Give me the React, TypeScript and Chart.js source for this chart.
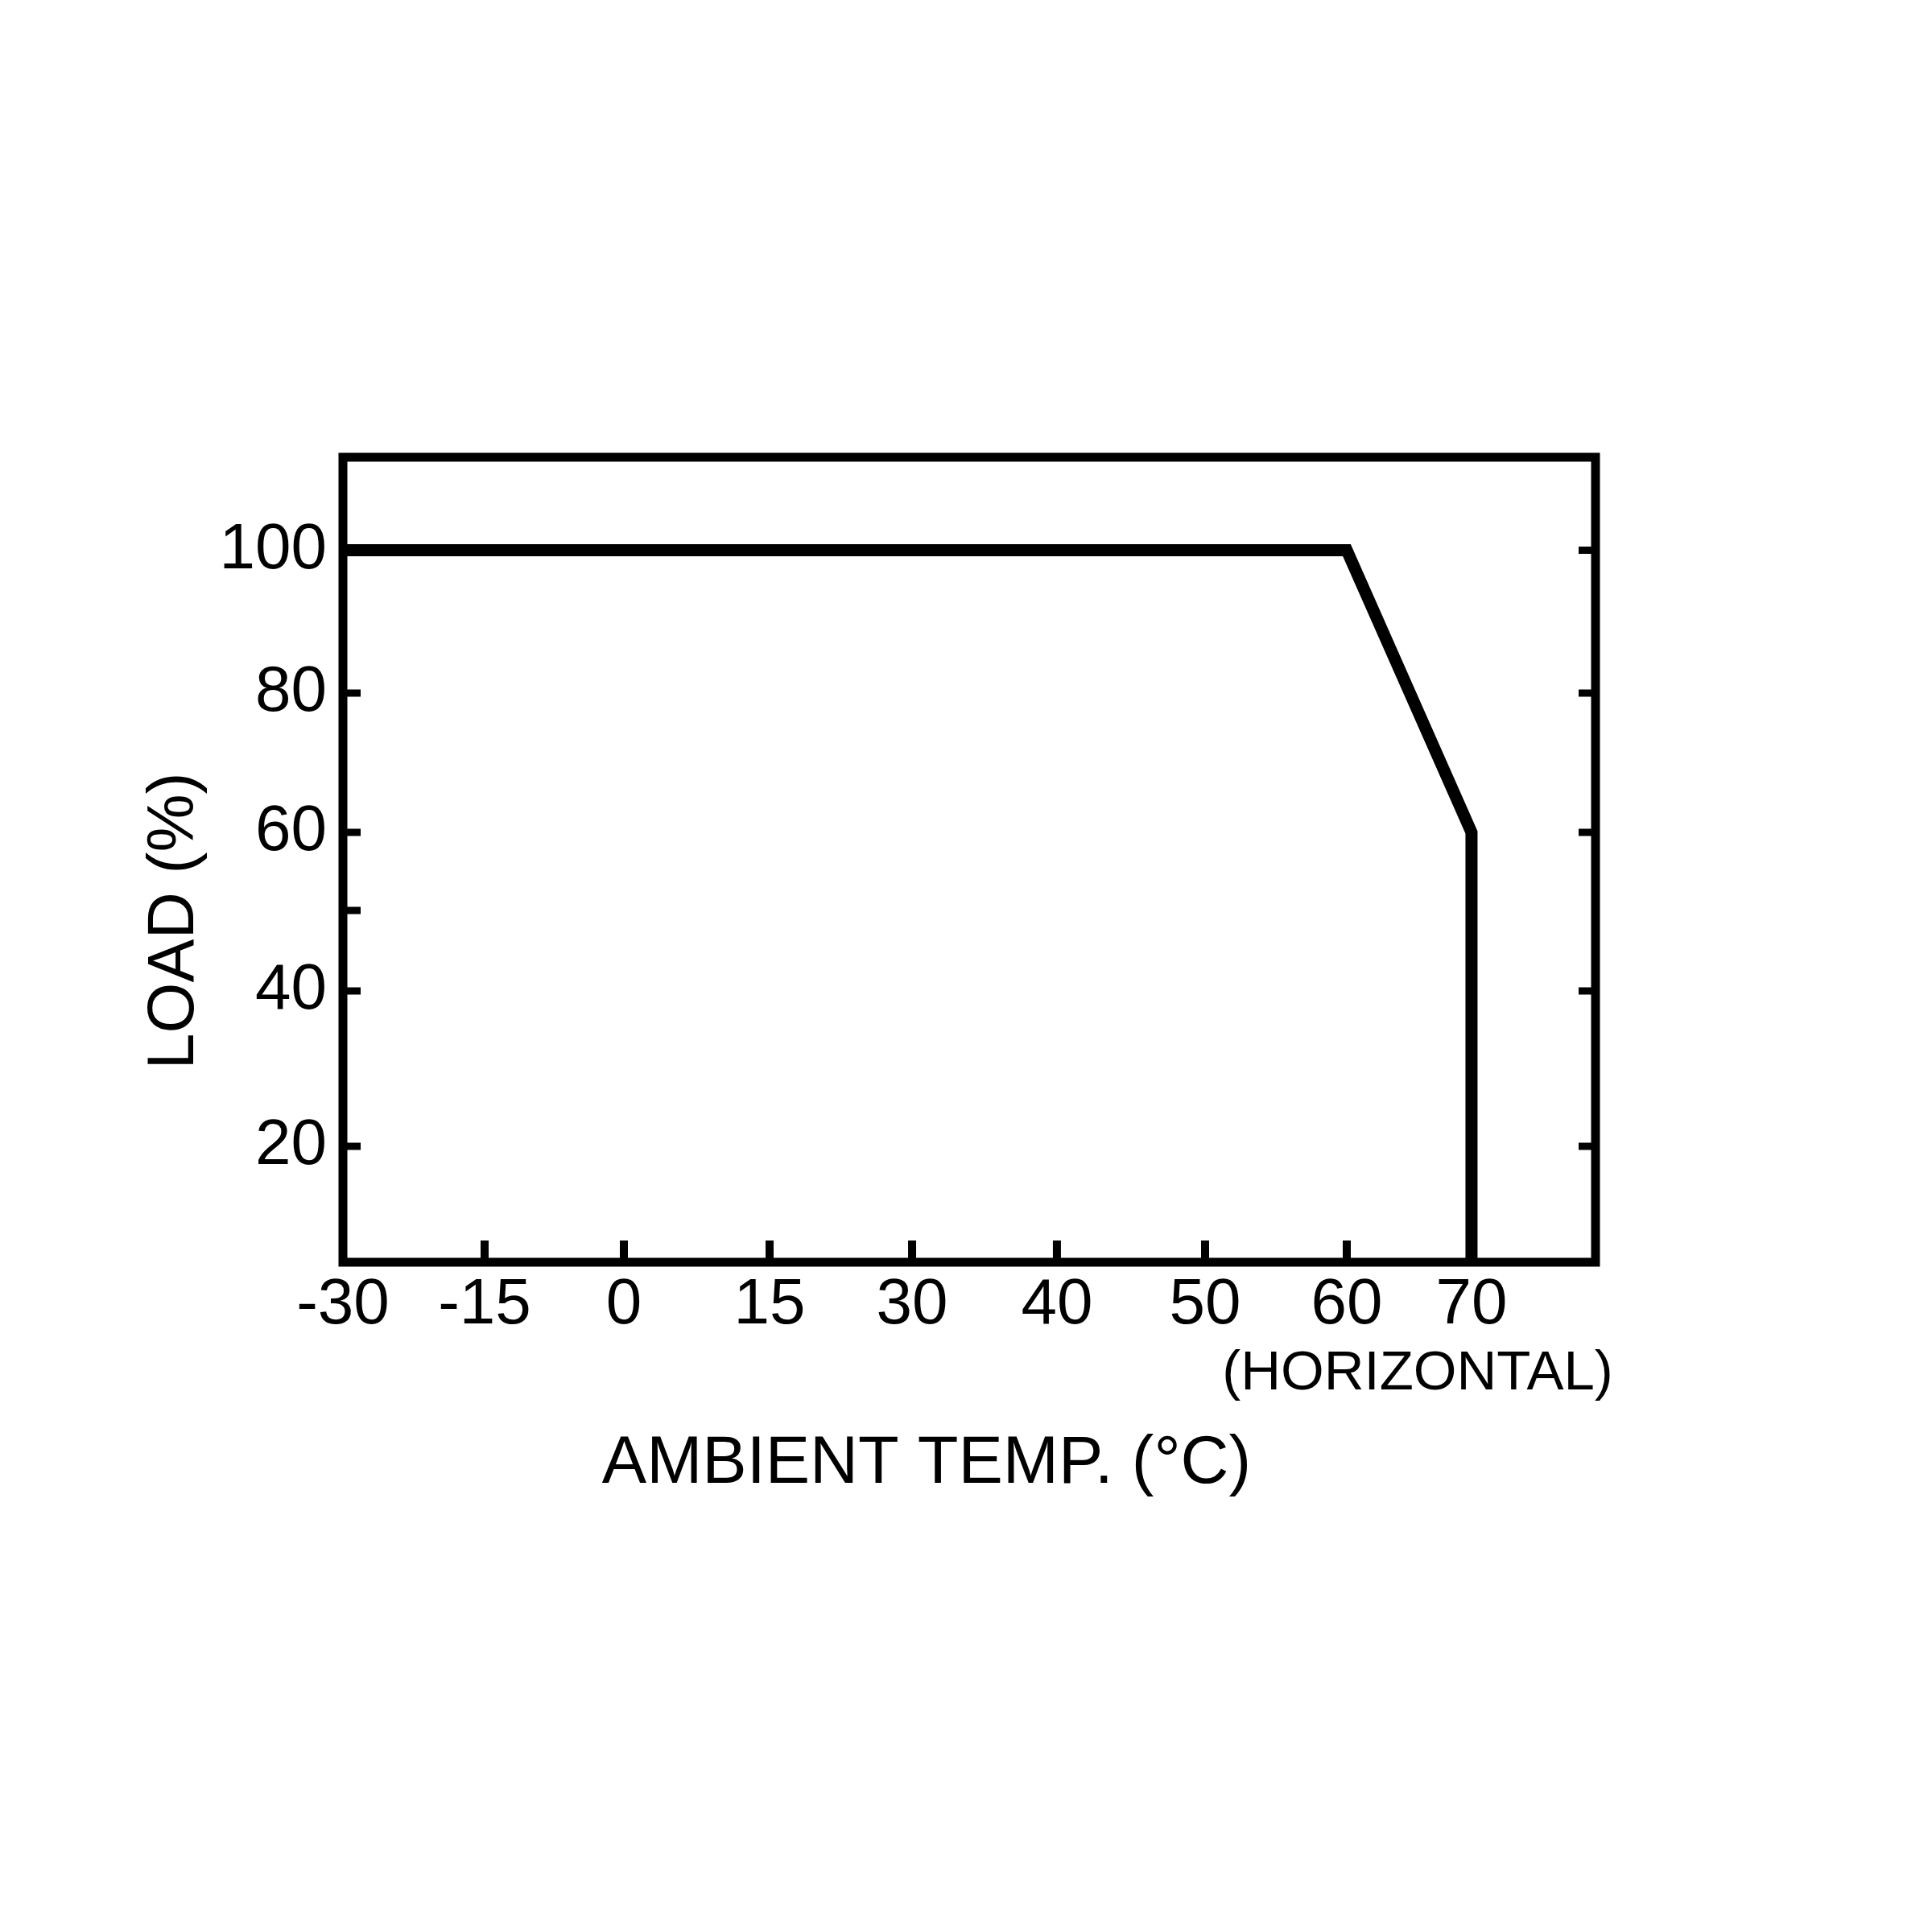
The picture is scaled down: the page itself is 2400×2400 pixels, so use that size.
import { useEffect, useRef } from 'react';
import { Chart, registerables, LinearScale } from 'chart.js';

// ---- data ----
const TEMP_C = [-30, 60, 70, 70];
const LOAD_PCT = [100, 100, 60, 5];

const X_TICK_VALUES = [-30, -15, 0, 15, 30, 40, 50, 60, 70];
const X_TICK_LABELS = ['-30', '-15', '0', '15', '30', '40', '50', '60', '70'];
const Y_TICK_VALUES = [20, 40, 50, 60, 80, 100];
const Y_TICK_LABELS = ['20', '40', '', '60', '80', '100'];
const Y_RIGHT_TICK_VALUES = [20, 40, 60, 80, 100];

const X_TITLE = 'AMBIENT TEMP. (°C)';
const X_NOTE = '(HORIZONTAL)';
const Y_TITLE = 'LOAD (%)';

const X_MIN = -30;
const X_MAX = 80;
const Y_MIN = 5;
const Y_MAX = 113;

// The original axes are hand drawn (not uniformly spaced):
// value -> fraction of the axis length.
const AXIS_ANCHORS: Record<string, [number, number][]> = {
  x: [[-30, 0], [-15, 0.1131], [0, 0.2243], [15, 0.3406], [30, 0.4544], [40, 0.57], [50, 0.6883], [60, 0.8014], [70, 0.901], [80, 1]],
  y: [[5, 0], [20, 0.144], [40, 0.337], [50, 0.437], [60, 0.534], [80, 0.707], [100, 0.8845], [113, 1]],
};

function mapPiecewise(pairs: [number, number][], v: number, from: number, to: number): number {
  const n = pairs.length;
  let i = 0;
  while (i < n - 2 && v > pairs[i + 1][from]) i++;
  const a = pairs[i];
  const b = pairs[i + 1];
  const t = (v - a[from]) / (b[from] - a[from]);
  return a[to] + t * (b[to] - a[to]);
}

class PiecewiseScale extends LinearScale {
  static id = 'piecewise';
  static defaults = LinearScale.defaults;
  getPixelForValue(value: any) {
    if (value === null || value === undefined || isNaN(value)) return NaN;
    const anchors = AXIS_ANCHORS[(this as any).id];
    return this.getPixelForDecimal(mapPiecewise(anchors, value, 0, 1));
  }
  getValueForPixel(pixel: number) {
    const anchors = AXIS_ANCHORS[(this as any).id];
    return mapPiecewise(anchors, this.getDecimalForPixel(pixel), 1, 0);
  }
}

Chart.register(...registerables, PiecewiseScale as any);

const FONT = '"Liberation Sans", Arial, Helvetica, sans-serif';

const framePlugin = {
  id: 'frameAndTitles',
  beforeDraw(chart: any) {
    const { ctx, width, height } = chart;
    ctx.save();
    ctx.fillStyle = '#ffffff';
    ctx.fillRect(0, 0, width, height);
    ctx.restore();
  },
  afterDatasetsDraw(chart: any) {
    const { ctx, chartArea: a, scales } = chart;
    ctx.save();
    ctx.strokeStyle = '#000';
    ctx.lineCap = 'butt';
    ctx.lineWidth = 11;
    ctx.strokeRect(a.left, a.top, a.right - a.left, a.bottom - a.top);

    ctx.lineWidth = 10;
    for (const v of X_TICK_VALUES) {
      const px = scales.x.getPixelForValue(v);
      if (px <= a.left + 2 || px >= a.right - 2) continue;
      ctx.beginPath();
      ctx.moveTo(px, a.bottom);
      ctx.lineTo(px, a.bottom - 27);
      ctx.stroke();
    }
    ctx.lineWidth = 9;
    for (const v of Y_TICK_VALUES) {
      const py = scales.y.getPixelForValue(v);
      ctx.beginPath();
      ctx.moveTo(a.left, py);
      ctx.lineTo(a.left + 22, py);
      ctx.stroke();
    }
    for (const v of Y_RIGHT_TICK_VALUES) {
      const py = scales.y.getPixelForValue(v);
      ctx.beginPath();
      ctx.moveTo(a.right, py);
      ctx.lineTo(a.right - 21, py);
      ctx.stroke();
    }

    ctx.fillStyle = '#000';
    ctx.textBaseline = 'middle';
    ctx.textAlign = 'center';
    ctx.font = `83px ${FONT}`;
    ctx.fillText(X_TITLE, a.left + 725, a.bottom + 251);
    ctx.font = `69px ${FONT}`;
    ctx.fillText(X_NOTE, a.left + 1335, a.bottom + 139);

    ctx.save();
    ctx.translate(218, a.bottom - 424);
    ctx.rotate(-Math.PI / 2);
    ctx.font = `81px ${FONT}`;
    ctx.fillText(Y_TITLE, 0, 0);
    ctx.restore();
    ctx.restore();
  },
};

export default function App() {
  const canvasRef = useRef<HTMLCanvasElement | null>(null);

  useEffect(() => {
    const canvas = canvasRef.current;
    if (!canvas) return;
    const chart = new Chart(canvas, {
      type: 'line',
      data: {
        datasets: [
          {
            label: 'Load',
            data: TEMP_C.map((t, i) => ({ x: t, y: LOAD_PCT[i] })),
            borderColor: '#000',
            borderWidth: 15,
            borderJoinStyle: 'miter',
            borderCapStyle: 'butt',
            pointRadius: 0,
            tension: 0,
            fill: false,
          } as any,
        ],
      },
      options: {
        responsive: false,
        animation: false,
        devicePixelRatio: 1,
        layout: { padding: { left: 0, top: 568, right: 418, bottom: 712 } },
        plugins: {
          legend: { display: false },
          tooltip: { enabled: false },
          title: { display: false },
        },
        scales: {
          x: {
            type: 'piecewise' as any,
            min: X_MIN,
            max: X_MAX,
            grid: { display: false, drawTicks: false },
            border: { display: false },
            afterBuildTicks: (scale: any) => {
              scale.ticks = X_TICK_VALUES.map((v) => ({ value: v }));
            },
            afterFit: (scale: any) => {
              scale.height = 120;
            },
            ticks: {
              autoSkip: false,
              maxRotation: 0,
              minRotation: 0,
              padding: 6,
              color: '#000',
              font: { family: FONT, size: 80 },
              callback: (_v: any, i: number) => X_TICK_LABELS[i],
            },
          } as any,
          y: {
            type: 'piecewise' as any,
            min: Y_MIN,
            max: Y_MAX,
            grid: { display: false, drawTicks: false },
            border: { display: false },
            afterBuildTicks: (scale: any) => {
              scale.ticks = Y_TICK_VALUES.map((v) => ({ value: v }));
            },
            afterFit: (scale: any) => {
              scale.width = 426;
            },
            ticks: {
              autoSkip: false,
              padding: 20,
              color: '#000',
              font: { family: FONT, size: 80 },
              callback: (_v: any, i: number) => Y_TICK_LABELS[i],
            },
          } as any,
        },
      },
      plugins: [framePlugin],
    });
    return () => chart.destroy();
  }, []);

  return (
    <div style={{ position: 'absolute', left: 0, top: 0, width: 2400, height: 2400, background: '#fff' }}>
      <canvas ref={canvasRef} width={2400} height={2400} style={{ display: 'block' }} />
    </div>
  );
}
